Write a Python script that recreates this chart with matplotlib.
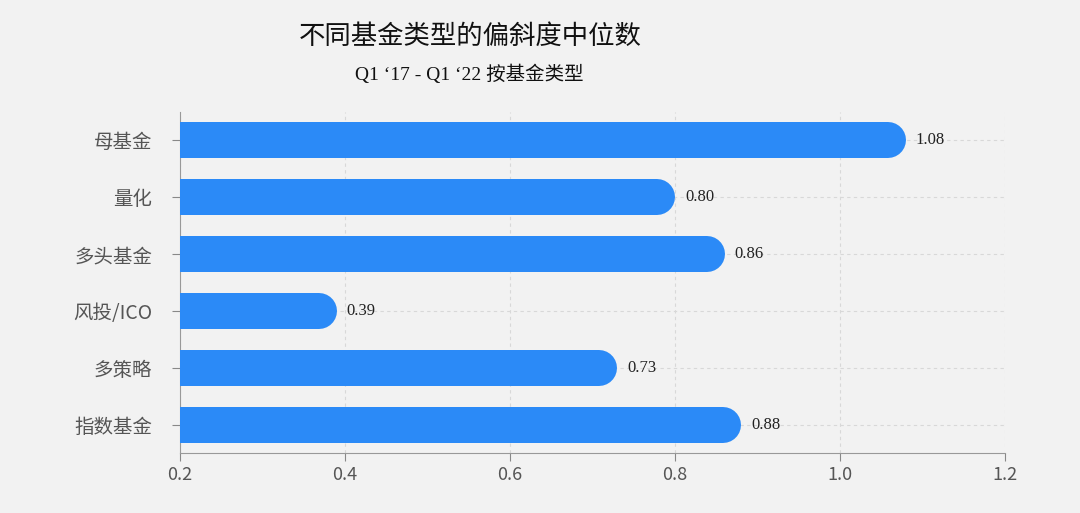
import matplotlib.pyplot as plt

plt.rcParams['font.family'] = ['Noto Sans CJK SC', 'DejaVu Sans']

categories = ["母基金", "量化", "多头基金", "风投/ICO", "多策略", "指数基金"]
values = [1.08, 0.80, 0.86, 0.39, 0.73, 0.88]
xticks = [0.2, 0.4, 0.6, 0.8, 1.0, 1.2]

bg = "#f2f2f2"
blue = "#2b8af7"
fig = plt.figure(figsize=(10.8, 5.13), dpi=100, facecolor=bg)
ax = fig.add_axes([0.1667, 0.117, 0.7639, 0.665], facecolor=bg)

lw_pt = 36 * 72 / 100  # bar thickness of ~36 px
cap = 18 / 825  # half thickness in data units (825 px per unit)
n = len(categories)
for i, (cat, v) in enumerate(zip(categories, values)):
    y = n - 1 - i
    ax.plot([0.1, v - cap], [y, y], color=blue, lw=lw_pt, solid_capstyle="round", zorder=3)
    ax.text(v + 0.012, y, f"{v:.2f}", va="center", ha="left", fontsize=12,
            family=["Liberation Serif"], color="#222222")

ax.set_xlim(0.2, 1.2)
ax.set_ylim(-0.5, n - 0.5)
ax.set_xticks(xticks)
ax.set_xticklabels([f"{t:.1f}" for t in xticks], fontsize=13, color="#555555")
ax.set_yticks(range(n))
ax.set_yticklabels(categories[::-1], fontsize=14, color="#555555")
ax.tick_params(axis="y", length=6, color="#888888", pad=14)
ax.tick_params(axis="x", length=6, color="#888888")
ax.grid(True, linestyle=(0, (3, 3)), color="#d8d8d8", lw=0.8, zorder=0)
for s in ["top", "right"]:
    ax.spines[s].set_visible(False)
for s in ["left", "bottom"]:
    ax.spines[s].set_color("#999999")

fig.text(0.435, 0.93, "不同基金类型的偏斜度中位数", ha="center", va="center", fontsize=19, color="#111111")
fig.text(0.435, 0.855, "Q1 ‘17 - Q1 ‘22 按基金类型", ha="center", va="center", fontsize=14,
         family=["Liberation Serif", "Noto Sans CJK SC"], color="#111111")

fig.savefig("out.png", dpi=100, facecolor=bg)
